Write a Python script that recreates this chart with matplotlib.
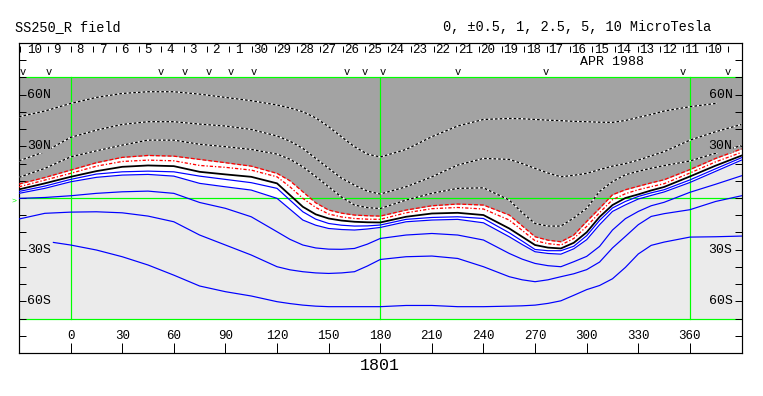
import numpy as np
import matplotlib
matplotlib.use("Agg")
import matplotlib.pyplot as plt

# source surface field map, CR 1801 (lat in degrees at each Carrington lon)
lons = [-30, -15, 0, 15, 30, 45, 60, 75, 90, 105, 120, 127.5, 135, 142.5, 150, 157.5, 165, 172.5, 180,
        195, 210, 225, 240, 255, 262.5, 270, 277.5, 285, 292.5, 300, 307.5, 315, 322.5, 330, 337.5,
        345, 360, 375, 390]

pos_10 = [47.2, 50.5, 54.9, 58.4, 60.7, 61.7, 61.7, 60.3, 58.4, 56.5, 54.0, 52.3, 50.1, 46.5, 41.4, 35.5,
          29.8, 25.5, 23.8, 28.2, 35.6, 41.8, 45.6, 46.2, 46.0, 45.6, 45.2, 44.9, 44.5, 44.3, 44.0, 43.9,
          45.0, 46.8, 48.5, 50.5, 53.0, 54.9, np.nan]
pos_5 = [21.6, 26.9, 35.2, 39.4, 42.7, 44.3, 44.3, 42.9, 41.8, 39.8, 36.0, 33.0, 28.8, 23.0, 17.2, 11.5,
         7.5, 4.0, 2.3, 6.5, 12.3, 19.1, 23.0, 22.4, 20.0, 17.2, 14.5, 12.3, 13.2, 14.3, 16.5, 18.5,
         20.0, 22.0, 24.5, 26.9, 33.6, 38.5, 42.7]
pos_2_5 = [12.0, 17.2, 23.9, 27.4, 30.7, 33.6, 33.6, 31.2, 29.8, 28.2, 25.5, 22.5, 18.1, 12.5, 6.5, 0.5,
           -4.1, -5.6, -6.1, -1.2, 2.7, 5.6, 5.9, -1.2, -8.5, -14.8, -16.3, -16.3, -11.6, -6.0, 3.8, 9.5,
           13.5, 15.5, 17.3, 18.8, 21.5, 26.0, 30.5]
pos_1 = [8.1, 11.9, 16.2, 20.5, 23.6, 24.7, 24.3, 22.4, 20.5, 18.5, 14.3, 10.0, 3.6, -2.8, -7.0, -8.8,
         -9.9, -10.3, -10.5, -7.0, -4.5, -3.5, -4.1, -9.9, -16.2, -22.5, -24.5, -25.4, -21.5, -13.6, -6.0,
         1.9, 4.8, 6.8, 8.8, 10.6, 16.5, 23.0, 28.5]
pos_0_5 = [6.5, 10.4, 14.3, 18.5, 21.2, 22.0, 21.6, 18.9, 17.8, 16.2, 12.3, 6.5, -0.2, -5.5, -9.3, -11.0,
           -11.9, -12.3, -12.4, -8.6, -6.2, -5.5, -6.4, -12.8, -18.8, -24.8, -26.5, -27.3, -23.5, -16.5,
           -8.5, -1.0, 2.5, 4.8, 6.6, 8.3, 14.5, 21.0, 26.5]
neutral = [5.0, 8.5, 12.3, 15.6, 18.1, 18.9, 18.5, 15.2, 13.7, 12.3, 8.5, 1.7, -5.1, -9.5, -11.9, -13.1,
           -13.8, -14.1, -14.2, -10.9, -9.0, -8.6, -9.9, -17.7, -22.5, -27.3, -28.8, -29.3, -26.0, -19.9,
           -11.0, -4.1, 0.0, 2.1, 4.4, 6.4, 12.5, 18.8, 24.6]
neg_0_5 = [3.8, 6.9, 10.8, 13.9, 15.2, 15.6, 15.2, 12.7, 10.8, 8.9, 5.6, -1.2, -8.0, -12.3, -14.8, -15.8,
           -16.3, -16.2, -15.7, -12.4, -11.3, -10.9, -11.9, -20.2, -25.0, -29.9, -30.6, -30.6, -28.0, -21.9,
           -13.0, -5.8, -2.0, 0.9, 3.0, 4.8, 10.5, 17.0, 23.4]
neg_1 = [2.7, 5.6, 9.4, 12.0, 13.3, 13.7, 12.7, 8.5, 6.5, 4.6, -0.2, -6.5, -12.8, -15.8, -17.7, -18.3,
         -18.6, -18.0, -17.1, -13.8, -12.8, -12.4, -14.4, -22.5, -27.0, -31.2, -32.2, -32.6, -29.5, -24.2,
         -15.5, -7.8, -4.0, -0.6, 1.5, 3.5, 9.0, 15.5, 22.0]
neg_2_5 = [-0.2, 0.3, 1.3, 2.7, 3.6, 4.0, 2.7, -2.6, -6.0, -10.9, -19.6, -24.0, -27.3, -29.0, -29.7, -29.8,
           -29.3, -26.8, -23.5, -21.5, -20.6, -21.5, -24.4, -32.2, -35.5, -38.0, -39.3, -39.9, -37.0, -33.9,
           -28.1, -18.6, -12.0, -7.8, -4.5, -2.5, 3.3, 8.0, 12.9]
neg_5 = [-12.2, -8.9, -8.2, -8.0, -8.6, -10.5, -13.8, -21.5, -27.3, -33.1, -39.9, -41.7, -42.8, -43.5, -43.8,
         -43.5, -42.8, -39.5, -35.7, -34.1, -33.7, -35.1, -39.9, -45.7, -47.5, -48.6, -47.5, -45.7, -44.0,
         -41.6, -37.2, -29.0, -22.3, -15.5, -10.7, -9.1, -6.8, -2.0, 1.3]
lons_neg_10 = [-10, 0, 15, 30, 45, 60, 75, 90, 105, 120, 127.5, 135, 142.5, 150, 157.5, 165, 172.5, 180,
               195, 210, 225, 240, 255, 262.5, 270, 277.5, 285, 292.5, 300, 307.5, 315, 322.5, 330, 337.5,
               345, 360, 375, 390]
neg_10 = [-25.8, -27.3, -30.2, -34.1, -38.9, -44.8, -51.1, -54.4, -56.9, -60.2, -61.3, -62.2, -62.8, -63.1,
          -63.1, -63.1, -63.1, -63.1, -62.4, -62.4, -63.1, -63.1, -62.8, -62.6, -62.2, -61.2, -59.7, -56.5,
          -53.2, -50.8, -46.9, -40.3, -32.5, -27.5, -25.6, -22.7, -22.5, -22.1]

# top strip: day labels (right to left = back in time), observation marks
day_labels = ["10", "9", "8", "7", "6", "5", "4", "3", "2", "1", "30", "29", "28", "27", "26", "25",
              "24", "23", "22", "21", "20", "19", "18", "17", "16", "15", "14", "13", "12", "11", "10"]
day_tick_lons = [-13.1 + 13.18 * k for k in range(31)]
obs_lons = [-27.6, -12.8, 52.7, 66.6, 80.1, 93.1, 106.3, 160.5, 171.0, 181.6, 225.3, 276.2, 356.0, 382.0]
lon_ticks = list(range(0, 361, 30))
lat_labels = {60: "60N", 30: "30N", -30: "30S", -60: "60S"}

DARK = "#a3a3a3"
LIGHT = "#ebebeb"
GREEN = "#00ff00"
MONO = "Liberation Mono"
PX = 0.72

fig = plt.figure(figsize=(7.63, 3.96), dpi=100)
ax = fig.add_axes([19 / 763, 43 / 396, 722.5 / 763, 310 / 396])
ax.set_xlim(-30, 390)
ax.set_ylim(-90, 90)

# polarity shading
ax.fill_between(lons, -70, 70, color=LIGHT, lw=0, zorder=0)
ax.fill_between(lons, neg_1, pos_1, color="white", lw=0, zorder=0)
ax.fill_between(lons, pos_1, 70, color=DARK, lw=0, zorder=0)

# grid lines
for yy in (-70, 0, 70):
    ax.plot([-30, 390], [yy, yy], color=GREEN, lw=1.2 * PX, zorder=1)
for xx in (0, 180, 360):
    ax.plot([xx, xx], [-70, 70], color=GREEN, lw=1.2 * PX, zorder=1)
ax.text(-33, -2, ">", color=GREEN, fontsize=6, family=MONO, ha="center", va="center", clip_on=False)

# contours
for ys in (pos_10, pos_5, pos_2_5):
    ax.plot(lons, ys, color="white", lw=1.3 * PX, zorder=3)
    ax.plot(lons, ys, color="black", lw=1.3 * PX, ls=(0, (2, 1.6)), zorder=3)
ax.plot(lons, pos_1, color="red", lw=1.3 * PX, ls=(0, (3, 1.5)), zorder=3)
ax.plot(lons, pos_0_5, color="red", lw=1.3 * PX, ls=(0, (2.5, 1.5, 1, 1.5)), zorder=3)
ax.plot(lons, neutral, color="black", lw=1.8 * PX, zorder=4)
for ys in (neg_0_5, neg_1, neg_2_5, neg_5):
    ax.plot(lons, ys, color="blue", lw=1.2 * PX, zorder=3)
ax.plot(lons_neg_10, neg_10, color="blue", lw=1.2 * PX, zorder=3)

# frame and ticks
for s in ax.spines.values():
    s.set_linewidth(1.2 * PX)
ax.set_yticks(range(-80, 81, 10))
ax.set_xticks(lon_ticks)
ax.tick_params(axis="y", direction="in", length=5, width=PX, left=True, right=True,
               labelleft=False, labelright=False)
ax.tick_params(axis="x", direction="in", length=7, width=PX, bottom=True, top=False,
               labelbottom=False)

for lat, lab in lat_labels.items():
    bg = DARK if lat > 0 else LIGHT
    ax.text(-25.3, lat, lab, family=MONO, fontsize=9.5, ha="left", va="center", zorder=5,
            bbox=dict(facecolor=bg, edgecolor="none", pad=0.3))
    ax.text(384.8, lat, lab, family=MONO, fontsize=9.5, ha="right", va="center", zorder=5,
            bbox=dict(facecolor=bg, edgecolor="none", pad=0.3))

for lon in lon_ticks:
    ax.text(lon, -80, str(lon), family=MONO, fontsize=9, ha="center", va="center")

# date strip
ax.vlines(day_tick_lons, 84.6, 88.2, color="black", lw=PX)
ax.vlines([-29.4], 84.6, 88.2, color="black", lw=PX)
for k, lab in enumerate(day_labels):
    x = day_tick_lons[k] - 13.18 + 5.2
    x = max(x, -25.0)
    ax.text(x, 86.0, lab, family=MONO, fontsize=9, ha="center", va="center")
ax.text(315, 79.2, "APR 1988", family=MONO, fontsize=9.5, ha="center", va="center")
for lon in obs_lons:
    ax.text(lon, 73.3, "v", family=MONO, fontsize=7.5, ha="center", va="center")

fig.text(15 / 763, 1 - 27 / 396, "SS250_R field", family=MONO, fontsize=9.8, ha="left", va="center")
fig.text(711 / 763, 1 - 27 / 396, "0, \u00b10.5, 1, 2.5, 5, 10 MicroTesla", family=MONO, fontsize=9.8,
         ha="right", va="center")
fig.text(380 / 763, 1 - 366 / 396, "1801", family=MONO, fontsize=12, ha="center", va="center")

fig.savefig("out.png", dpi=100, facecolor="white")
